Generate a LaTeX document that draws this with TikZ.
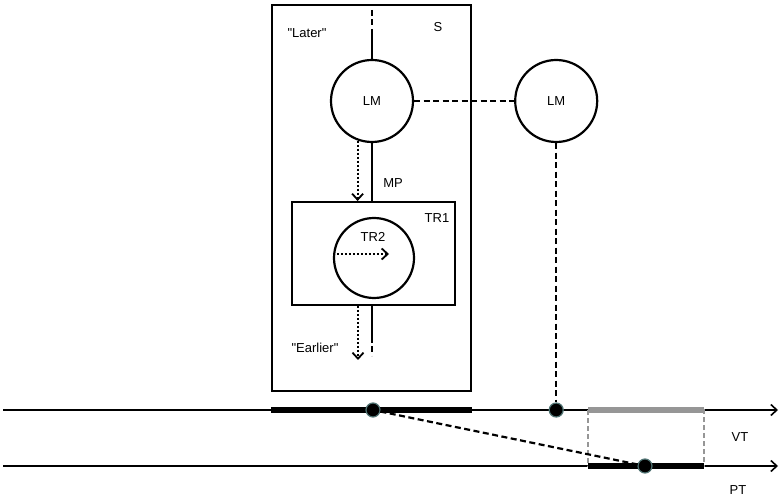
\documentclass[tikz,border=0pt]{standalone}
\usepackage{fontspec}
\setmainfont{Liberation Sans}
\usetikzlibrary{arrows.meta,positioning}
\definecolor{trackGrey}{RGB}{150,150,150}
\definecolor{dotRim}{RGB}{80,115,115}
\tikzset{
  lmcircle/.style={
    circle, draw, line width=2.2pt, minimum size=82pt, inner sep=0pt,
    font=\fontsize{13}{15}\selectfont},
  framebox/.style={rectangle, draw, line width=2pt, inner sep=0pt},
  tag/.style={font=\fontsize{13}{15}\selectfont, inner sep=0pt},
  mainline/.style={line width=2pt},
  linkline/.style={line width=2.2pt, dash pattern=on 6pt off 3.5pt},
  timearrow/.style={line width=2pt, dash pattern=on 2pt off 2pt,
    -{Straight Barb[length=6pt,width=11pt,line width=1.8pt]}},
  trackline/.style={line width=1.6pt, -{Straight Barb[length=6pt,width=11pt]}},
  blockseg/.style={line width=6pt},
  greyseg/.style={blockseg, draw=trackGrey},
  junction/.style={circle, fill=black, draw=dotRim, line width=1.2pt,
    minimum size=14pt, inner sep=0pt}
}

\begin{document}
\begin{tikzpicture}[x=1pt,y=-1pt]
    \useasboundingbox (0,0) rectangle (779,502);

    % ---- stage box S ---------------------------------------------
    \node[framebox, minimum width=199pt, minimum height=386pt] (stage) at (371.5,198) {};
    \node[tag] (slab)  at (438,27) {S};
    \node[tag] (later) at (307,33) {\textquotedbl Later\textquotedbl};
    \node[tag] (early) at (315,348) {\textquotedbl Earlier\textquotedbl};

    \node[lmcircle] (lm) at (372,101) {LM};
    \node[lmcircle, right=100pt of lm] (lmout) {LM};

    \node[framebox, minimum width=163pt, minimum height=103pt] (tr1) at (373.5,253.5) {};
    \node[tag] (tr1lab) at (437,218) {TR1};
    \node[lmcircle, minimum size=80pt] (tr2) at (374,258) {};
    \node[tag] (tr2lab) at (373,237) {TR2};
    \node[tag] (mplab)  at (393,183) {MP};

    % ---- main path through the stage ------------------------------
    \coordinate (mptop) at (372,10);
    \coordinate (mpmid) at (372,33);
    \coordinate (mplow) at (372,337);
    \coordinate (mpend) at (372,356);
    \draw[linkline] (mptop) -- (mpmid);
    \draw[mainline] (mpmid) -- (lm.north);
    \draw[mainline] (lm.south) -- (lm.south |- tr1.north);
    \draw[mainline] (lm.south |- tr1.south) -- (mplow);
    \draw[linkline] (mplow) -- (mpend);

    % ---- time arrows ----------------------------------------------
    \coordinate (earlyend) at (358,360);
    \draw[timearrow] (lm.-110) -- (lm.-110 |- tr1.north);
    \draw[timearrow] (earlyend |- tr1.south) -- (earlyend);
    \coordinate (tr2end) at (389,254);
    \draw[timearrow] (tr2.west |- tr2end) -- (tr2end);

    % ---- tracks VT and PT -----------------------------------------
    \coordinate (vtstart) at (3,410);
    \coordinate (vtend)   at (778,410);
    \coordinate (ptstart) at (3,466);
    \coordinate (ptend)   at (778,466);
    \draw[trackline] (vtstart) -- (vtend);
    \draw[trackline] (ptstart) -- (ptend);
    \node[tag] (vtlab) at (740,437) {VT};
    \node[tag] (ptlab) at (738,490) {PT};

    \coordinate (zoneL) at (588,410);
    \coordinate (zoneR) at (704,466);
    \draw[blockseg] (stage.west |- vtstart) -- (stage.east |- vtstart);
    \draw[trackGrey, line width=1.3pt, dash pattern=on 5pt off 3pt] (zoneL) rectangle (zoneR);
    \draw[greyseg]  (zoneL) -- (zoneR |- zoneL);
    \draw[blockseg] (zoneL |- zoneR) -- (zoneR);

    % ---- junction points ------------------------------------------
    \node[junction] (jstage) at (373,410) {};
    \node[junction] (jout)   at (lmout.south |- vtstart) {};
    \node[junction] (jpt)    at (645,466) {};

    \draw[linkline] (lm.east) -- (lmout.west);
    \draw[linkline] (lmout.south) -- (jout);
    \draw[linkline] (jstage) -- (jpt);

\end{tikzpicture}
\end{document}
